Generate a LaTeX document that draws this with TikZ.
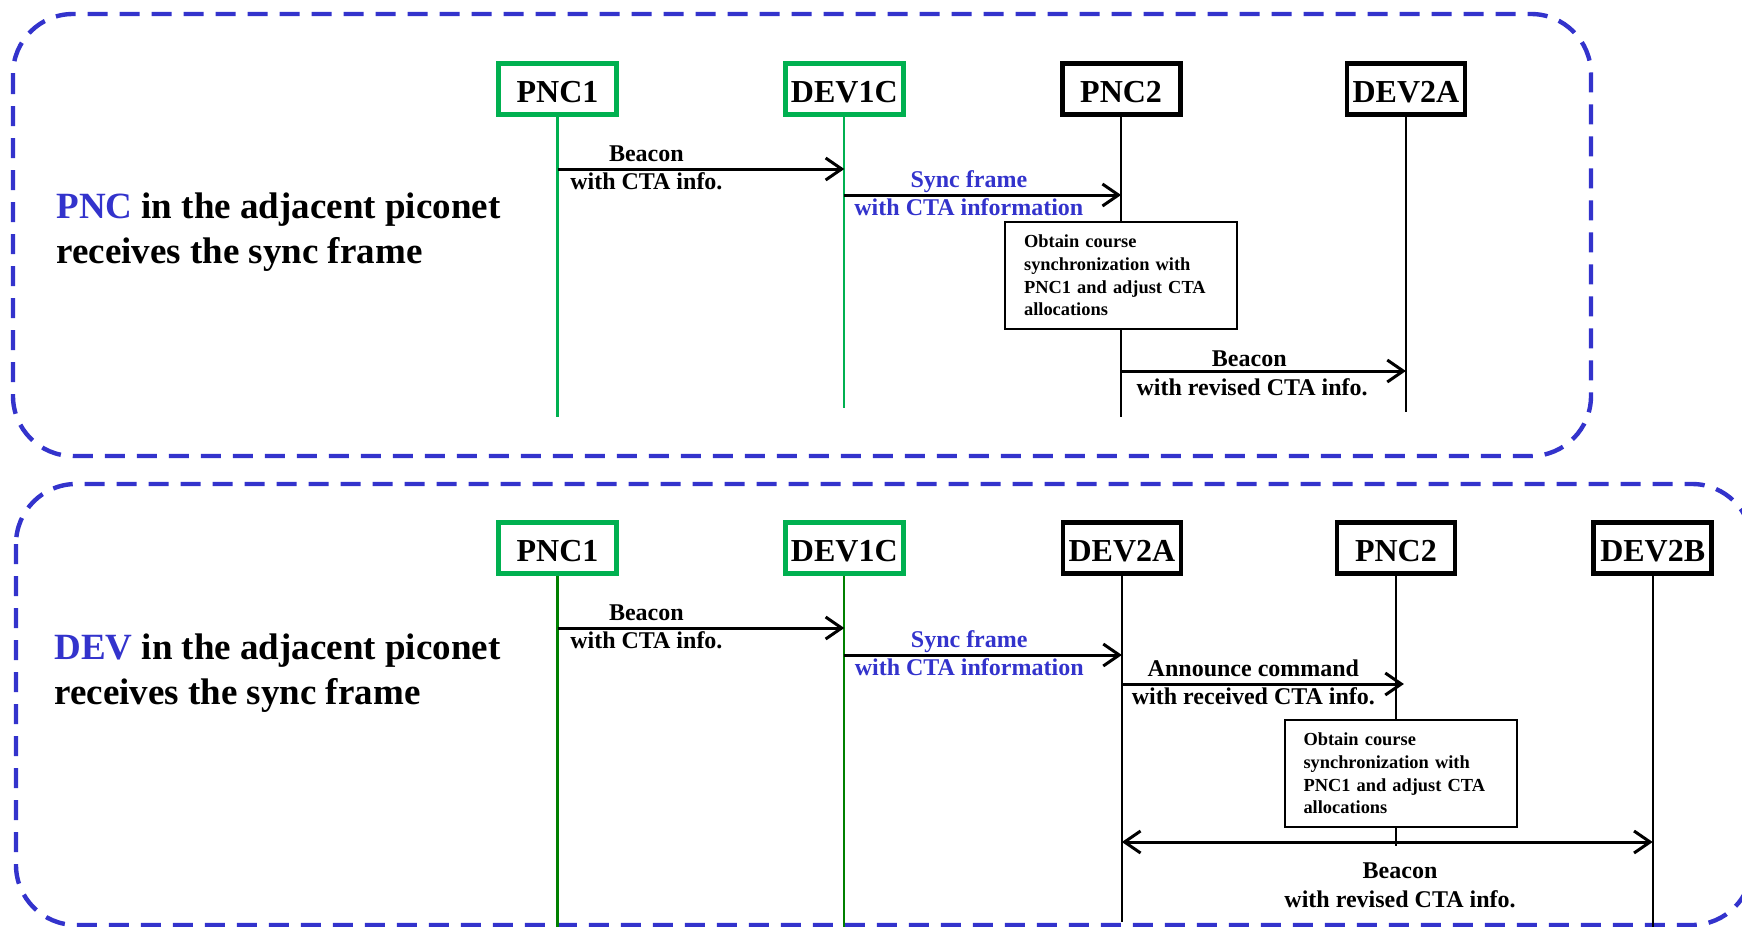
\documentclass[tikz,border=0pt]{standalone}
\usepackage{fontspec}
\setmainfont{Liberation Serif}
\usepackage{xcolor}
\usepackage{tikz}
\usetikzlibrary{arrows.meta, positioning}

\definecolor{piconetblue}{RGB}{51,51,204}
\definecolor{boxgreen}{RGB}{0,176,80}
\definecolor{lifegreen}{RGB}{0,128,0}

\begin{document}
\begin{tikzpicture}[x=0.5pt, y=-0.5pt,
        piconet/.style={draw=piconetblue, line width=2.2pt, dash pattern=on 10pt off 6pt, rounded corners=30pt},
        greenbox/.style={draw=boxgreen, line width=2.4pt, fill=white, minimum width=59pt, minimum height=25.5pt, inner sep=0pt, text height=13.5pt, text depth=0pt, font=\bfseries\fontsize{16}{19}\selectfont},
        blackbox/.style={greenbox, draw=black},
        lifeline/.style={line width=1.1pt},
        msg/.style={line width=1.5pt, -{Straight Barb[length=8pt, width=11pt]}},
        lblup/.style={anchor=base, yshift=4pt, font=\bfseries\fontsize{12}{14}\selectfont},
        lbldown/.style={anchor=base, yshift=-10pt, font=\bfseries\fontsize{12}{14}\selectfont},
        notebox/.style={draw, line width=1pt, fill=white, align=left, minimum width=116pt, minimum height=53.5pt, text width=97pt, inner xsep=9.5pt, font=\bfseries\fontsize{9.2}{11.3}\selectfont},
        caption/.style={anchor=west, align=left, inner sep=0pt, font=\bfseries\fontsize{18.5}{22.5}\selectfont}]
    \useasboundingbox (0,0) rectangle (1742,927);
    \clip (0,0) rectangle (1742,927);

    \draw[piconet] (13,14) rectangle (1591,456);
    \draw[piconet] (16,484) rectangle (1752,925);

    \node[caption] (pnctext) at (56,232) {\textcolor{piconetblue}{PNC} in the adjacent piconet\\receives the sync frame};
    \node[caption] (devtext) at (54,673) {\textcolor{piconetblue}{DEV} in the adjacent piconet\\receives the sync frame};

    \node[greenbox] (pnc1) at (557.5,89) {PNC1};
    \node[greenbox, right=82pt of pnc1] (dev1c) {DEV1C};
    \node[blackbox, right=77pt of dev1c] (pnc2) {PNC2};
    \node[blackbox, right=81pt of pnc2] (dev2a) {DEV2A};

    \draw[lifeline, boxgreen] (pnc1.south) -- (pnc1.south |- 0,417);
    \draw[lifeline, boxgreen] (dev1c.south) -- (dev1c.south |- 0,408);
    \draw[lifeline] (pnc2.south) -- (pnc2.south |- 0,417);
    \draw[lifeline] (dev2a.south) -- (dev2a.south |- 0,412);

    \draw[msg] (pnc1 |- 0,169) -- (dev1c |- 0,169)
        node[pos=.31, lblup] {Beacon} node[pos=.31, lbldown] {with CTA info.};
    \draw[msg] (dev1c |- 0,195) -- (pnc2 |- 0,195)
        node[pos=.45, lblup, text=piconetblue] {Sync frame} node[pos=.45, lbldown, text=piconetblue] {with CTA information};
    \node[notebox] (syncA) at (pnc2 |- 0,275.5) {Obtain course\\synchronization with\\PNC1 and adjust CTA\\allocations};
    \draw[msg] (pnc2 |- 0,371) -- (dev2a |- 0,371)
        node[pos=.45, lblup, yshift=-1.5pt] {Beacon} node[pos=.46, lbldown, yshift=-2pt] {with revised CTA info.};

    \node[greenbox] (pnc1b) at (557.5,548) {PNC1};
    \node[greenbox, right=82pt of pnc1b] (dev1cb) {DEV1C};
    \node[blackbox, right=77.4pt of dev1cb] (dev2ab) {DEV2A};
    \node[blackbox, right=75.6pt of dev2ab] (pnc2b) {PNC2};
    \node[blackbox, right=67pt of pnc2b] (dev2bb) {DEV2B};

    \draw[lifeline, lifegreen] (pnc1b.south) -- (pnc1b.south |- 0,930);
    \draw[lifeline, lifegreen] (dev1cb.south) -- (dev1cb.south |- 0,930);
    \draw[lifeline] (dev2ab.south) -- (dev2ab.south |- 0,922);
    \draw[lifeline] (pnc2b.south) -- (pnc2b.south |- 0,846);
    \draw[lifeline] (dev2bb.south) -- (dev2bb.south |- 0,930);

    \draw[msg] (pnc1b |- 0,628) -- (dev1cb |- 0,628)
        node[pos=.31, lblup] {Beacon} node[pos=.31, lbldown] {with CTA info.};
    \draw[msg] (dev1cb |- 0,655) -- (dev2ab |- 0,655)
        node[pos=.45, lblup, text=piconetblue] {Sync frame} node[pos=.45, lbldown, text=piconetblue] {with CTA information};
    \draw[msg, shorten >=-4pt] (dev2ab |- 0,684) -- (pnc2b |- 0,684)
        node[pos=.48, lblup] {Announce command} node[pos=.48, lbldown] {with received CTA info.};
    \node[notebox] (syncB) at (1400.5,773.5) {Obtain course\\synchronization with\\PNC1 and adjust CTA\\allocations};
    \draw[msg, {Straight Barb[length=8pt, width=11pt]}-{Straight Barb[length=8pt, width=11pt]}] (dev2ab |- 0,842) -- (dev2bb |- 0,842)
        node[pos=.524, lblup, yshift=-22pt] {Beacon} node[pos=.524, lbldown, yshift=-22.5pt] {with revised CTA info.};
\end{tikzpicture}
\end{document}
